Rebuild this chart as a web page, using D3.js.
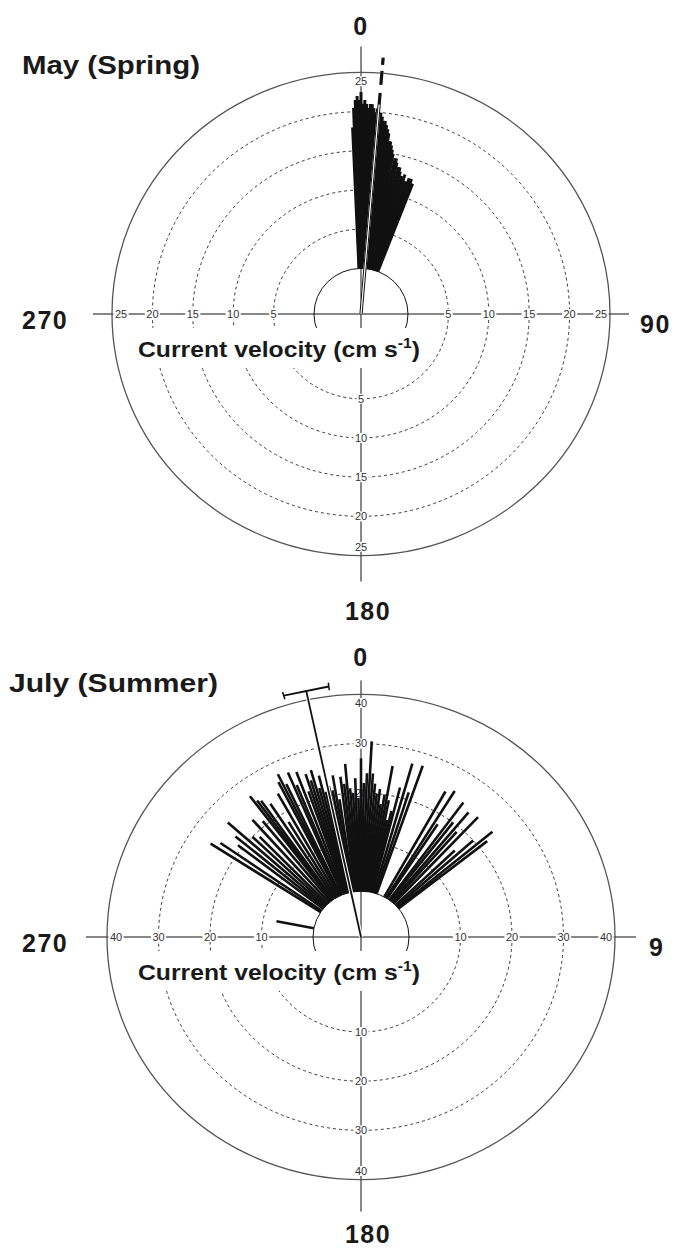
<!DOCTYPE html>
<html>
<head>
<meta charset="utf-8">
<script src="https://cdn.jsdelivr.net/npm/d3@7"></script>
<style>
  body { margin: 0; background: #fff; }
  svg text { font-family: "Liberation Sans", Arial, sans-serif; }
</style>
</head>
<body>
<div id="chart"></div>
<script>
var svgWidth = 681;
var svgHeight = 1251;

// May (Spring): current direction (deg from N) and speed (cm/s)
var mayDir   = [-2.5, -2, -1.5, -1, -0.5, 0, 0.5, 1, 1.5, 2, 2.5, 3, 3.5, 4, 4.5, 5.5, 6, 6.5, 7, 7.5,
                8, 8.5, 9, 9.5, 10, 10.5, 11, 12, 12.5, 13, 14, 14.5, 15, 16, 17, 18, 19, 20, 21];
var maySpeed = [18, 20.5, 21.5, 22, 21.5, 22.5, 21, 21.5, 21, 20.5, 21, 21, 20.5, 20, 20.5, 20, 19.5, 19, 19, 18.5,
                18, 17.5, 16.5, 16.5, 16, 15.5, 15, 14.5, 14.5, 14, 13.5, 13.5, 13, 12.5, 12.8, 12, 12.5, 12.5, 12];
var mayTicks = [5, 10, 15, 20, 25];
var mayMean  = {dir: 4.8, speed: 27};
var mayCompass = ["0", "90", "180", "270"];

// July (Summer)
var julyDir   = [-79, -57, -55, -52, -50, -48, -46, -44, -41.5, -39, -37, -36, -35, -33, -31, -29, -27, -26, -25, -23,
                 -22, -20.5, -19, -18, -17, -16, -15, -14, -13, -12, -11.5, -10.5, -9.5, -8.5, -7, -6, -5, -4, -3, -2,
                 -1, 0, 1, 2, 3, 4, 5, 6, 7, 8, 9, 10, 11, 12, 13, 14, 15.8, 17.5, 19,
                 29, 31.5, 33, 36, 37.5, 39.5, 41, 43, 46, 48, 50, 51.5];
var julySpeed = [7.4, 25.5, 24, 21, 22.5, 25.5, 20, 19, 22.5, 21, 26.5, 25, 24.5, 23, 18, 24, 26, 27.5, 25, 27,
                 24, 26.5, 22, 25.5, 24, 26, 22, 24.5, 21, 26, 22, 21, 24, 19, 23.5, 22, 26, 21, 20, 23,
                 19, 27, 22, 24, 30.5, 24, 22, 20, 21, 18, 20, 26, 19, 15, 17, 22, 27.3, 21.5, 27.5,
                 24.5, 25.5, 18, 24.5, 20, 23.5, 19, 24, 16, 20, 24, 22];
var julyTicks = [10, 20, 30, 40];
var julyMean  = {dir: -12, speed: 42, err: 5};
var julyCompass = ["0", "9", "180", "270"];

var svg = d3.select("#chart").append("svg")
    .attr("width", svgWidth)
    .attr("height", svgHeight);

function drawRose(cfg) {
    var g = svg.append("g");
    var maxTick = d3.max(cfg.ticks);
    var rScale = d3.scaleLinear().domain([0, maxTick]).range([cfg.r0, cfg.rMax]);
    var rad = Math.PI / 180;

    function pt(dir, r) {
        return [cfg.cx + r * Math.sin(dir * rad), cfg.cy - r * Math.cos(dir * rad) * cfg.ky];
    }

    // axis lines
    g.append("line")
        .attr("x1", cfg.cx - cfg.rMax - cfg.extSide).attr("x2", cfg.cx + cfg.rMax + cfg.extSide)
        .attr("y1", cfg.cy).attr("y2", cfg.cy)
        .attr("stroke", "#111").attr("stroke-width", 1);
    g.append("line")
        .attr("x1", cfg.cx).attr("x2", cfg.cx)
        .attr("y1", cfg.cy - cfg.rMax * cfg.ky - cfg.extTop)
        .attr("y2", cfg.cy + cfg.rMax * cfg.ky + cfg.extBottom)
        .attr("stroke", "#111").attr("stroke-width", 1);

    // dashed speed rings
    g.selectAll(".ring")
        .data(cfg.ticks.slice(0, -1))
        .enter().append("ellipse")
        .attr("cx", cfg.cx).attr("cy", cfg.cy)
        .attr("rx", d => rScale(d)).attr("ry", d => rScale(d) * cfg.ky)
        .attr("fill", "none").attr("stroke", "#222")
        .attr("stroke-width", 0.9).attr("stroke-dasharray", "3,3");

    // outer and inner rings
    g.append("ellipse")
        .attr("cx", cfg.cx).attr("cy", cfg.cy)
        .attr("rx", rScale(maxTick)).attr("ry", rScale(maxTick) * cfg.ky)
        .attr("fill", "none").attr("stroke", "#555").attr("stroke-width", 1.3);
    g.append("ellipse")
        .attr("cx", cfg.cx).attr("cy", cfg.cy)
        .attr("rx", cfg.r0).attr("ry", cfg.r0 * cfg.ky)
        .attr("fill", "none").attr("stroke", "#111").attr("stroke-width", 1);

    // tick labels on the four half-axes, each on a small white box
    var tickPos = [];
    cfg.ticks.forEach(function(t, i) {
        var r = rScale(t) - (i === cfg.ticks.length - 1 ? 9 : 0);
        tickPos.push({t: t, x: cfg.cx - r, y: cfg.cy});
        tickPos.push({t: t, x: cfg.cx + r, y: cfg.cy});
        tickPos.push({t: t, x: cfg.cx, y: cfg.cy - r * cfg.ky});
        tickPos.push({t: t, x: cfg.cx, y: cfg.cy + r * cfg.ky});
    });
    var tickG = g.append("g").style("opacity", 0.999);
    tickG.selectAll("rect")
        .data(tickPos)
        .enter().append("rect")
        .attr("x", d => d.x - String(d.t).length * 3.3 - 1)
        .attr("y", d => d.y - 5)
        .attr("width", d => String(d.t).length * 6.6 + 2)
        .attr("height", 10)
        .attr("fill", "#fff");
    tickG.selectAll("text")
        .data(tickPos)
        .enter().append("text")
        .attr("x", d => d.x).attr("y", d => d.y)
        .attr("dy", "0.35em")
        .attr("text-anchor", "middle")
        .style("font-size", "11px")
        .attr("fill", "#333")
        .text(d => d.t);

    // velocity label with white box
    g.append("rect")
        .attr("x", cfg.cx - 236).attr("y", cfg.cy + 14)
        .attr("width", 303).attr("height", 40)
        .attr("fill", "#fff");
    var vl = g.append("text")
        .attr("x", cfg.cx - 223).attr("y", cfg.cy + 43)
        .attr("textLength", 282).attr("lengthAdjust", "spacingAndGlyphs")
        .style("font-size", "22px").style("font-weight", "bold")
        .attr("fill", "#1a1a1a");
    vl.append("tspan").text("Current velocity (cm s");
    vl.append("tspan").attr("dy", -9).style("font-size", "14px").text("-1");
    vl.append("tspan").attr("dy", 9).text(")");

    // compass labels
    var comp = [
        {t: cfg.compass[0], x: cfg.cx, y: cfg.cy - cfg.topLab, a: "middle"},
        {t: cfg.compass[1], x: cfg.rightLab, y: cfg.cy + 19, a: "start"},
        {t: cfg.compass[2], x: cfg.cx + 7, y: cfg.cy + cfg.botLab, a: "middle"},
        {t: cfg.compass[3], x: 22, y: cfg.cy + 15, a: "start"}
    ];
    g.selectAll(".comp")
        .data(comp)
        .enter().append("text")
        .attr("x", d => d.x).attr("y", d => d.y)
        .attr("text-anchor", d => d.a)
        .style("font-size", "25px").style("font-weight", "bold")
        .style("letter-spacing", "1.5px")
        .attr("fill", "#1a1a1a")
        .text(d => d.t);

    // title
    g.append("text")
        .attr("x", cfg.titleX).attr("y", cfg.titleY)
        .attr("textLength", cfg.titleW).attr("lengthAdjust", "spacingAndGlyphs")
        .style("font-size", "25px").style("font-weight", "bold")
        .attr("fill", "#1a1a1a")
        .text(cfg.title);

    // current vectors
    var vec = cfg.dir.map((d, i) => ({dir: d, speed: cfg.speed[i]}));
    g.append("g").selectAll("line")
        .data(vec)
        .enter().append("line")
        .attr("x1", d => pt(d.dir, cfg.r0)[0])
        .attr("y1", d => pt(d.dir, cfg.r0)[1])
        .attr("x2", d => pt(d.dir, rScale(d.speed))[0])
        .attr("y2", d => pt(d.dir, rScale(d.speed))[1])
        .attr("stroke", "#111")
        .attr("stroke-width", cfg.barW);

    // mean direction
    var m = cfg.mean;
    var end = pt(m.dir, rScale(m.speed));
    g.append("line")
        .attr("x1", cfg.cx).attr("y1", cfg.cy)
        .attr("x2", end[0]).attr("y2", end[1])
        .attr("stroke", "#fff").attr("stroke-width", cfg.meanHalo);
    g.append("line")
        .attr("x1", cfg.cx).attr("y1", cfg.cy)
        .attr("x2", end[0]).attr("y2", end[1])
        .attr("stroke", "#111").attr("stroke-width", cfg.meanW)
        .attr("stroke-dasharray", cfg.meanDash);
    if (cfg.meanCore) {
        var ce = pt(m.dir, rScale(cfg.meanCore));
        g.append("line")
            .attr("x1", cfg.cx).attr("y1", cfg.cy)
            .attr("x2", ce[0]).attr("y2", ce[1])
            .attr("stroke", "#fff").attr("stroke-width", 1.2);
    }
    if (m.err) {
        var R = rScale(m.speed);
        var a = pt(m.dir - m.err, R), b = pt(m.dir + m.err, R);
        g.append("line")
            .attr("x1", a[0]).attr("y1", a[1]).attr("x2", b[0]).attr("y2", b[1])
            .attr("stroke", "#111").attr("stroke-width", 2);
        [m.dir - m.err, m.dir + m.err].forEach(function(d) {
            var p1 = pt(d, R - 4), p2 = pt(d, R + 4);
            g.append("line")
                .attr("x1", p1[0]).attr("y1", p1[1]).attr("x2", p2[0]).attr("y2", p2[1])
                .attr("stroke", "#111").attr("stroke-width", 1.5);
        });
    }
}

drawRose({
    cx: 361, cy: 314, r0: 47, rMax: 249, ky: 0.97,
    extSide: 19, extTop: 26, extBottom: 26,
    ticks: mayTicks, dir: mayDir, speed: maySpeed, mean: mayMean,
    compass: mayCompass, topLab: 279, botLab: 306, rightLab: 640,
    title: "May (Spring)", titleX: 22, titleY: 74, titleW: 178,
    barW: 3, meanW: 3.2, meanHalo: 3.2, meanCore: 21, meanDash: "222,8,14,6"
});

drawRose({
    cx: 361, cy: 937, r0: 48, rMax: 254, ky: 0.955,
    extSide: 21, extTop: 14, extBottom: 32,
    ticks: julyTicks, dir: julyDir, speed: julySpeed, mean: julyMean,
    compass: julyCompass, topLab: 271, botLab: 306, rightLab: 649,
    title: "July (Summer)", titleX: 9, titleY: 692, titleW: 209,
    barW: 2.6, meanW: 1.8, meanHalo: 4, meanCore: null, meanDash: null
});
</script>
</body>
</html>
